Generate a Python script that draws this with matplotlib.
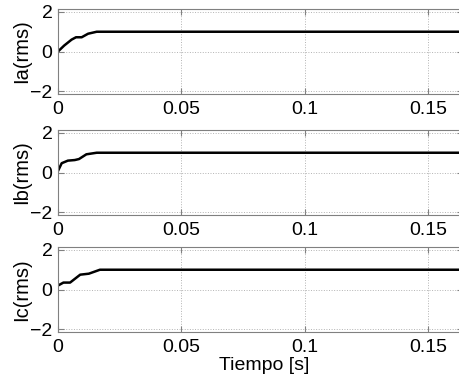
import matplotlib.pyplot as plt

plt.rcParams['font.family'] = ['Liberation Sans', 'DejaVu Sans']

# puntos de la corriente rms por fase (transitorio inicial y régimen)
t_end = 0.1635
t_a = [0.0, 0.0025, 0.0055, 0.0073, 0.0096, 0.0122, 0.0157, t_end]
ia = [0.0, 0.3, 0.6, 0.72, 0.72, 0.9, 1.0, 1.0]

t_b = [0.0, 0.0015, 0.0040, 0.0068, 0.0085, 0.0115, 0.0157, t_end]
ib = [0.08, 0.47, 0.60, 0.63, 0.68, 0.92, 1.0, 1.0]

t_c = [0.0, 0.0022, 0.0049, 0.0090, 0.0125, 0.0170, t_end]
ic = [0.2, 0.35, 0.35, 0.75, 0.8, 1.0, 1.0]

series = [(t_a, ia, 'Ia(rms)'), (t_b, ib, 'Ib(rms)'), (t_c, ic, 'Ic(rms)')]
xticks = [0, 0.05, 0.1, 0.15]
xticklabels = ['0', '0.05', '0.1', '0.15']
yticks = [-2, 0, 2]

W, H = 460, 379
fig = plt.figure(figsize=(W / 100, H / 100), dpi=100)

# posiciones en pixeles: izquierda, arriba, abajo
left = 58
tops = [9, 130, 247]
height = 85
x_px_per_unit = 2467.0
right = W + 3
xmax = (right - left) / x_px_per_unit

for (t, y, lab), top in zip(series, tops):
    ax = fig.add_axes([left / W, 1 - (top + height) / H, (right - left) / W, height / H])
    ax.plot(t, y, color='black', lw=1.8)
    ax.set_xlim(0, xmax)
    ax.set_ylim(-2.15, 2.15)
    ax.set_xticks(xticks)
    ax.set_xticklabels(xticklabels)
    ax.set_yticks(yticks)
    ax.grid(True, linestyle=':', color='0.7', lw=0.7)
    for s in ax.spines.values():
        s.set_color('0.5')
    ax.tick_params(direction='in', colors='0.5', labelcolor='black',
                   labelsize=14, length=4, top=True, right=True)
    ax.tick_params(axis='x', pad=5)
    ax.tick_params(axis='y', pad=4)
    ax.set_ylabel(lab, fontsize=14.5, labelpad=-1)

ax.set_xlabel('Tiempo [s]', fontsize=14)
ax.xaxis.set_label_coords(0.51, -0.295)

fig.savefig('out.png', dpi=100)
